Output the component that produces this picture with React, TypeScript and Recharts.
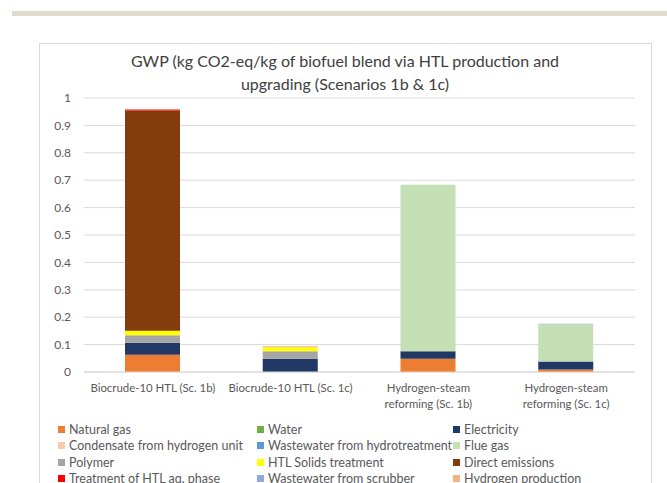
import React from "react";
import { BarChart, Bar, XAxis, YAxis, CartesianGrid } from "recharts";

const categories = [
  "Biocrude-10 HTL (Sc. 1b)",
  "Biocrude-10 HTL (Sc. 1c)",
  "Hydrogen-steam reforming (Sc. 1b)",
  "Hydrogen-steam reforming (Sc. 1c)",
];
const tickLines = [
  ["Biocrude-10 HTL (Sc. 1b)"],
  ["Biocrude-10 HTL (Sc. 1c)"],
  ["Hydrogen-steam", "reforming (Sc. 1b)"],
  ["Hydrogen-steam", "reforming (Sc. 1c)"],
];

const seriesNames = [
  "Natural gas",
  "Water",
  "Electricity",
  "Condensate from hydrogen unit",
  "Wastewater from hydrotreatment",
  "Flue gas",
  "Polymer",
  "HTL Solids treatment",
  "Direct emissions",
  "Treatment of HTL aq. phase",
  "Wastewater from scrubber",
  "Hydrogen production",
];
const seriesColors = [
  "#ED7D31",
  "#70AD47",
  "#1F3864",
  "#F8CBAD",
  "#5B9BD5",
  "#C5E0B4",
  "#A5A5A5",
  "#FFFF00",
  "#843C0C",
  "#FF0000",
  "#8FAADC",
  "#F4B183",
];

const naturalGas = [0.063, 0, 0.048, 0.009];
const water = [0, 0, 0, 0];
const electricity = [0.044, 0.048, 0.028, 0.029];
const condensate = [0, 0, 0, 0];
const wastewaterHydro = [0, 0, 0, 0];
const flueGas = [0, 0, 0.607, 0.136];
const polymer = [0.027, 0.028, 0, 0];
const htlSolids = [0.017, 0.014, 0, 0];
const directEmissions = [0.803, 0, 0, 0];
const treatmentHTL = [0.004, 0, 0, 0];
const wastewaterScrubber = [0, 0, 0, 0.002];
const hydrogenProduction = [0, 0.004, 0, 0];

const seriesValues = [
  naturalGas,
  water,
  electricity,
  condensate,
  wastewaterHydro,
  flueGas,
  polymer,
  htlSolids,
  directEmissions,
  treatmentHTL,
  wastewaterScrubber,
  hydrogenProduction,
];

const yTicks = [0, 0.1, 0.2, 0.3, 0.4, 0.5, 0.6, 0.7, 0.8, 0.9, 1];

const titleLines = [
  "GWP (kg CO2-eq/kg of biofuel blend via HTL production and",
  "upgrading (Scenarios 1b & 1c)",
];

const data = categories.map((c, i) => {
  const row: any = { name: c, idx: i };
  seriesNames.forEach((s, k) => {
    row["s" + k] = seriesValues[k][i];
  });
  return row;
});

const FONT = "Lato, 'Open Sans', sans-serif";
const TEXT = "#595959";

const XTick = (props: any) => {
  const { x, y, index, payload } = props;
  const idx = typeof index === "number" ? index : categories.indexOf(payload?.value);
  const lines = tickLines[idx] || [String(payload?.value ?? "")];
  return (
    <g>
      {lines.map((l: string, k: number) => (
        <text
          key={k}
          x={x}
          y={y + 20 + k * 16}
          textAnchor="middle"
          fill={TEXT}
          fontSize={11.4}
          fontFamily={FONT}
        >
          {l}
        </text>
      ))}
    </g>
  );
};

export default function App() {
  return (
    <div
      style={{
        position: "absolute",
        left: 0,
        top: 0,
        width: 667,
        height: 483,
        overflow: "hidden",
        background: "#fff",
        fontFamily: FONT,
      }}
    >
      <div
        style={{
          position: "absolute",
          left: 12,
          top: 11,
          width: 655,
          height: 5,
          background: "#E0DBCD",
        }}
      />
      <div
        style={{
          position: "absolute",
          left: 39,
          top: 43,
          width: 611,
          height: 460,
          border: "1px solid #D9D9D9",
        }}
      />
      {titleLines.map((t, i) => (
        <div
          key={i}
          style={{
            position: "absolute",
            left: 39,
            width: 612,
            top: 51 + i * 23,
            textAlign: "center",
            fontSize: 16,
            color: "#404040",
            whiteSpace: "nowrap",
          }}
        >
          {t}
        </div>
      ))}
      <div style={{ position: "absolute", left: 0, top: 0 }}>
        <BarChart
          width={667}
          height={483}
          data={data}
          margin={{ top: 98, right: 32, bottom: 81, left: 44 }}
          barSize={55}
        >
          <CartesianGrid
            vertical={false}
            stroke="#D9D9D9"
            strokeWidth={1}
          />
          <XAxis
            dataKey="name"
            interval={0}
            tickLine={false}
            axisLine={{ stroke: "#D9D9D9" }}
            tickSize={0}
            tickMargin={0}
            height={30}
            tick={(p: any) => <XTick {...p} />}
          />
          <YAxis
            width={40}
            domain={[0, 1]}
            ticks={yTicks}
            tickLine={false}
            axisLine={false}
            tickSize={0}
            tickMargin={13}
            interval={0}
            tick={{ fill: TEXT, fontSize: 12, fontFamily: FONT }}
            tickFormatter={(v: number) => String(Math.round(v * 10) / 10)}
          />
          {seriesNames.map((s, k) => (
            <Bar
              key={s}
              dataKey={"s" + k}
              stackId="a"
              fill={seriesColors[k]}
              isAnimationActive={false}
            />
          ))}
        </BarChart>
      </div>
      {seriesNames.map((s, k) => {
        const col = k % 3;
        const row = Math.floor(k / 3);
        const lefts = [58, 257, 453];
        return (
          <div
            key={s}
            style={{
              position: "absolute",
              left: lefts[col],
              top: 421 + row * 16.5,
              height: 16,
              display: "flex",
              alignItems: "center",
              whiteSpace: "nowrap",
              fontSize: 12.5,
              color: TEXT,
            }}
          >
            <span
              style={{
                display: "inline-block",
                width: 7,
                height: 7,
                background: seriesColors[k],
                marginRight: 4,
              }}
            />
            {s}
          </div>
        );
      })}
    </div>
  );
}
